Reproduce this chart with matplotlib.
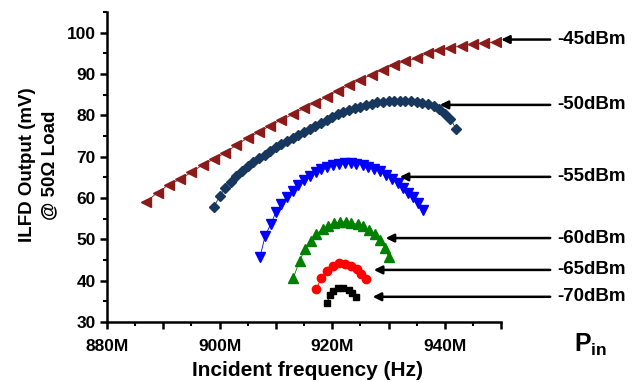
import matplotlib
matplotlib.use("Agg")
import matplotlib.pyplot as plt
from matplotlib.ticker import MultipleLocator, FuncFormatter

plt.rcParams['font.family'] = ['Liberation Sans', 'DejaVu Sans']
plt.rcParams['font.weight'] = 'bold'
plt.rcParams['mathtext.fontset'] = 'custom'
plt.rcParams['mathtext.bf'] = 'Liberation Sans:bold'
plt.rcParams['mathtext.rm'] = 'Liberation Sans:bold'

# -45 dBm
f45 = [887, 889, 891, 893, 895, 897, 899, 901, 903, 905, 907, 909, 911, 913, 915, 917,
       919, 921, 923, 925, 927, 929, 931, 933, 935, 937, 939, 941, 943, 945, 947, 949]
v45 = [59.1, 61.3, 63.2, 64.5, 66.2, 68.0, 69.4, 70.9, 72.8, 74.5, 75.9, 77.5, 78.9, 80.2, 81.7, 83.0,
       84.4, 85.9, 87.2, 88.6, 89.8, 91.0, 92.2, 93.0, 93.8, 95.0, 95.7, 96.3, 96.8, 97.2, 97.5, 97.7]

# -50 dBm
f50 = [899, 900, 901, 902, 903, 904, 905, 906, 907, 908, 909, 910, 911, 912, 913, 914,
       915, 916, 917, 918, 919, 920, 921, 922, 923, 924, 925, 926, 927, 928, 929, 930,
       931, 932, 933, 934, 935, 936, 937, 938, 939, 940, 941, 942]
v50 = [57.7, 60.5, 62.3, 63.9, 65.4, 66.6, 67.7, 68.8, 69.7, 70.5, 71.3, 72.2, 73.0, 73.8, 74.5, 75.2,
       75.9, 76.7, 77.5, 78.2, 78.9, 79.6, 80.2, 80.7, 81.2, 81.7, 82.1, 82.5, 82.8, 83.1, 83.3, 83.4,
       83.5, 83.5, 83.5, 83.4, 83.2, 82.9, 82.6, 82.2, 81.6, 80.4, 79.2, 76.6]

# -55 dBm
f55 = [907.2, 908.1, 909.1, 910.0, 911.0, 911.9, 913.0, 914.0, 915.0, 916.1, 917.1, 918.1, 919.1,
       920.2, 921.3, 922.3, 923.3, 924.3, 925.4, 926.4, 927.5, 928.5, 929.6, 930.6, 931.6, 932.6,
       933.5, 934.4, 935.2, 936.1]
v55 = [45.8, 50.8, 53.7, 56.5, 58.5, 60.2, 61.8, 63.2, 64.4, 65.4, 66.2, 67.0, 67.5,
       67.9, 68.2, 68.4, 68.4, 68.3, 68.0, 67.6, 67.0, 66.4, 65.6, 64.6, 63.6, 62.5,
       61.3, 60.2, 58.7, 57.0]

# -60 dBm
f60 = [913.1, 914.2, 915.2, 916.2, 917.2, 918.3, 919.3, 920.3, 921.4, 922.4, 923.4, 924.5,
       925.5, 926.5, 927.6, 928.5, 929.4, 930.0]
v60 = [40.6, 44.8, 47.6, 49.7, 51.3, 52.4, 53.2, 53.9, 54.2, 54.2, 54.0, 53.6,
       53.1, 52.3, 51.3, 49.9, 47.8, 45.7]

# -65 dBm
f65 = [917.1, 918.1, 919.1, 920.2, 921.3, 922.3, 923.3, 924.4, 925.2, 926.0]
v65 = [37.9, 40.6, 42.4, 43.6, 44.2, 44.0, 43.6, 42.8, 41.6, 40.3]

# -70 dBm
f70 = [919.0, 919.6, 920.2, 921.1, 922.0, 922.9, 923.5, 924.2]
v70 = [34.5, 36.5, 37.6, 38.2, 38.3, 37.7, 36.9, 36.1]

labels = ['-45dBm', '-50dBm', '-55dBm', '-60dBm', '-65dBm', '-70dBm']
arrow_y = [98.3, 82.5, 65.1, 50.3, 42.6, 36.1]
arrow_head = [949.5, 938.6, 931.5, 929.0, 926.9, 926.7]

fig = plt.figure(figsize=(6.36, 3.82), dpi=100)
ax = fig.add_axes([0.168, 0.157, 0.62, 0.812])

ax.plot(f45, v45, '<', color='#8b1a1a', ms=6.5, ls='-', lw=0.6)
ax.plot(f50, v50, 'D', color='#17375e', ms=5.5, ls='-', lw=0.6)
ax.plot(f55, v55, 'v', color='#0000ff', ms=6.5, ls='-', lw=0.6)
ax.plot(f60, v60, '^', color='#008000', ms=7, ls='-', lw=0.6)
ax.plot(f65, v65, 'o', color='#ff0000', ms=6, ls='-', lw=0.6)
ax.plot(f70, v70, 's', color='black', ms=5, ls='-', lw=0.6)

ax.set_xlim(880, 950)
ax.set_ylim(30, 105)
ax.spines['top'].set_visible(False)
ax.spines['right'].set_visible(False)
ax.spines['left'].set_linewidth(1.8)
ax.spines['bottom'].set_linewidth(1.8)

ax.xaxis.set_major_locator(MultipleLocator(10))
ax.xaxis.set_minor_locator(MultipleLocator(5))
ax.xaxis.set_major_formatter(FuncFormatter(lambda v, p: f"{v:.0f}M" if round(v) % 20 == 0 else ""))
ax.yaxis.set_major_locator(MultipleLocator(10))
ax.yaxis.set_minor_locator(MultipleLocator(5))
ax.tick_params(which='major', length=5, width=1.8, labelsize=12.5)
ax.tick_params(axis='x', which='major', pad=7)
ax.tick_params(axis='y', which='major', pad=3)
ax.tick_params(which='minor', length=3, width=1.5)

for lab, y, xh in zip(labels, arrow_y, arrow_head):
    ax.annotate('', xy=(xh, y), xytext=(959.2, y),
                arrowprops=dict(arrowstyle='-|>', color='black', lw=1.8, mutation_scale=12),
                annotation_clip=False)
    ax.text(960.0, y, lab, ha='left', va='center', fontsize=13.5, fontweight='bold', clip_on=False)

fig.text(0.06, 0.568, 'ILFD Output (mV)\n@ 50\u03a9 Load', rotation=90, ha='center', va='center',
         fontsize=13.5, fontweight='bold', linespacing=1.4)
fig.text(0.483, 0.031, 'Incident frequency (Hz)', ha='center', va='center',
         fontsize=15, fontweight='bold')
fig.text(0.903, 0.097, r'$\mathbf{P_{in}}$', ha='left', va='center', fontsize=18)

fig.savefig('out.png', dpi=100)
